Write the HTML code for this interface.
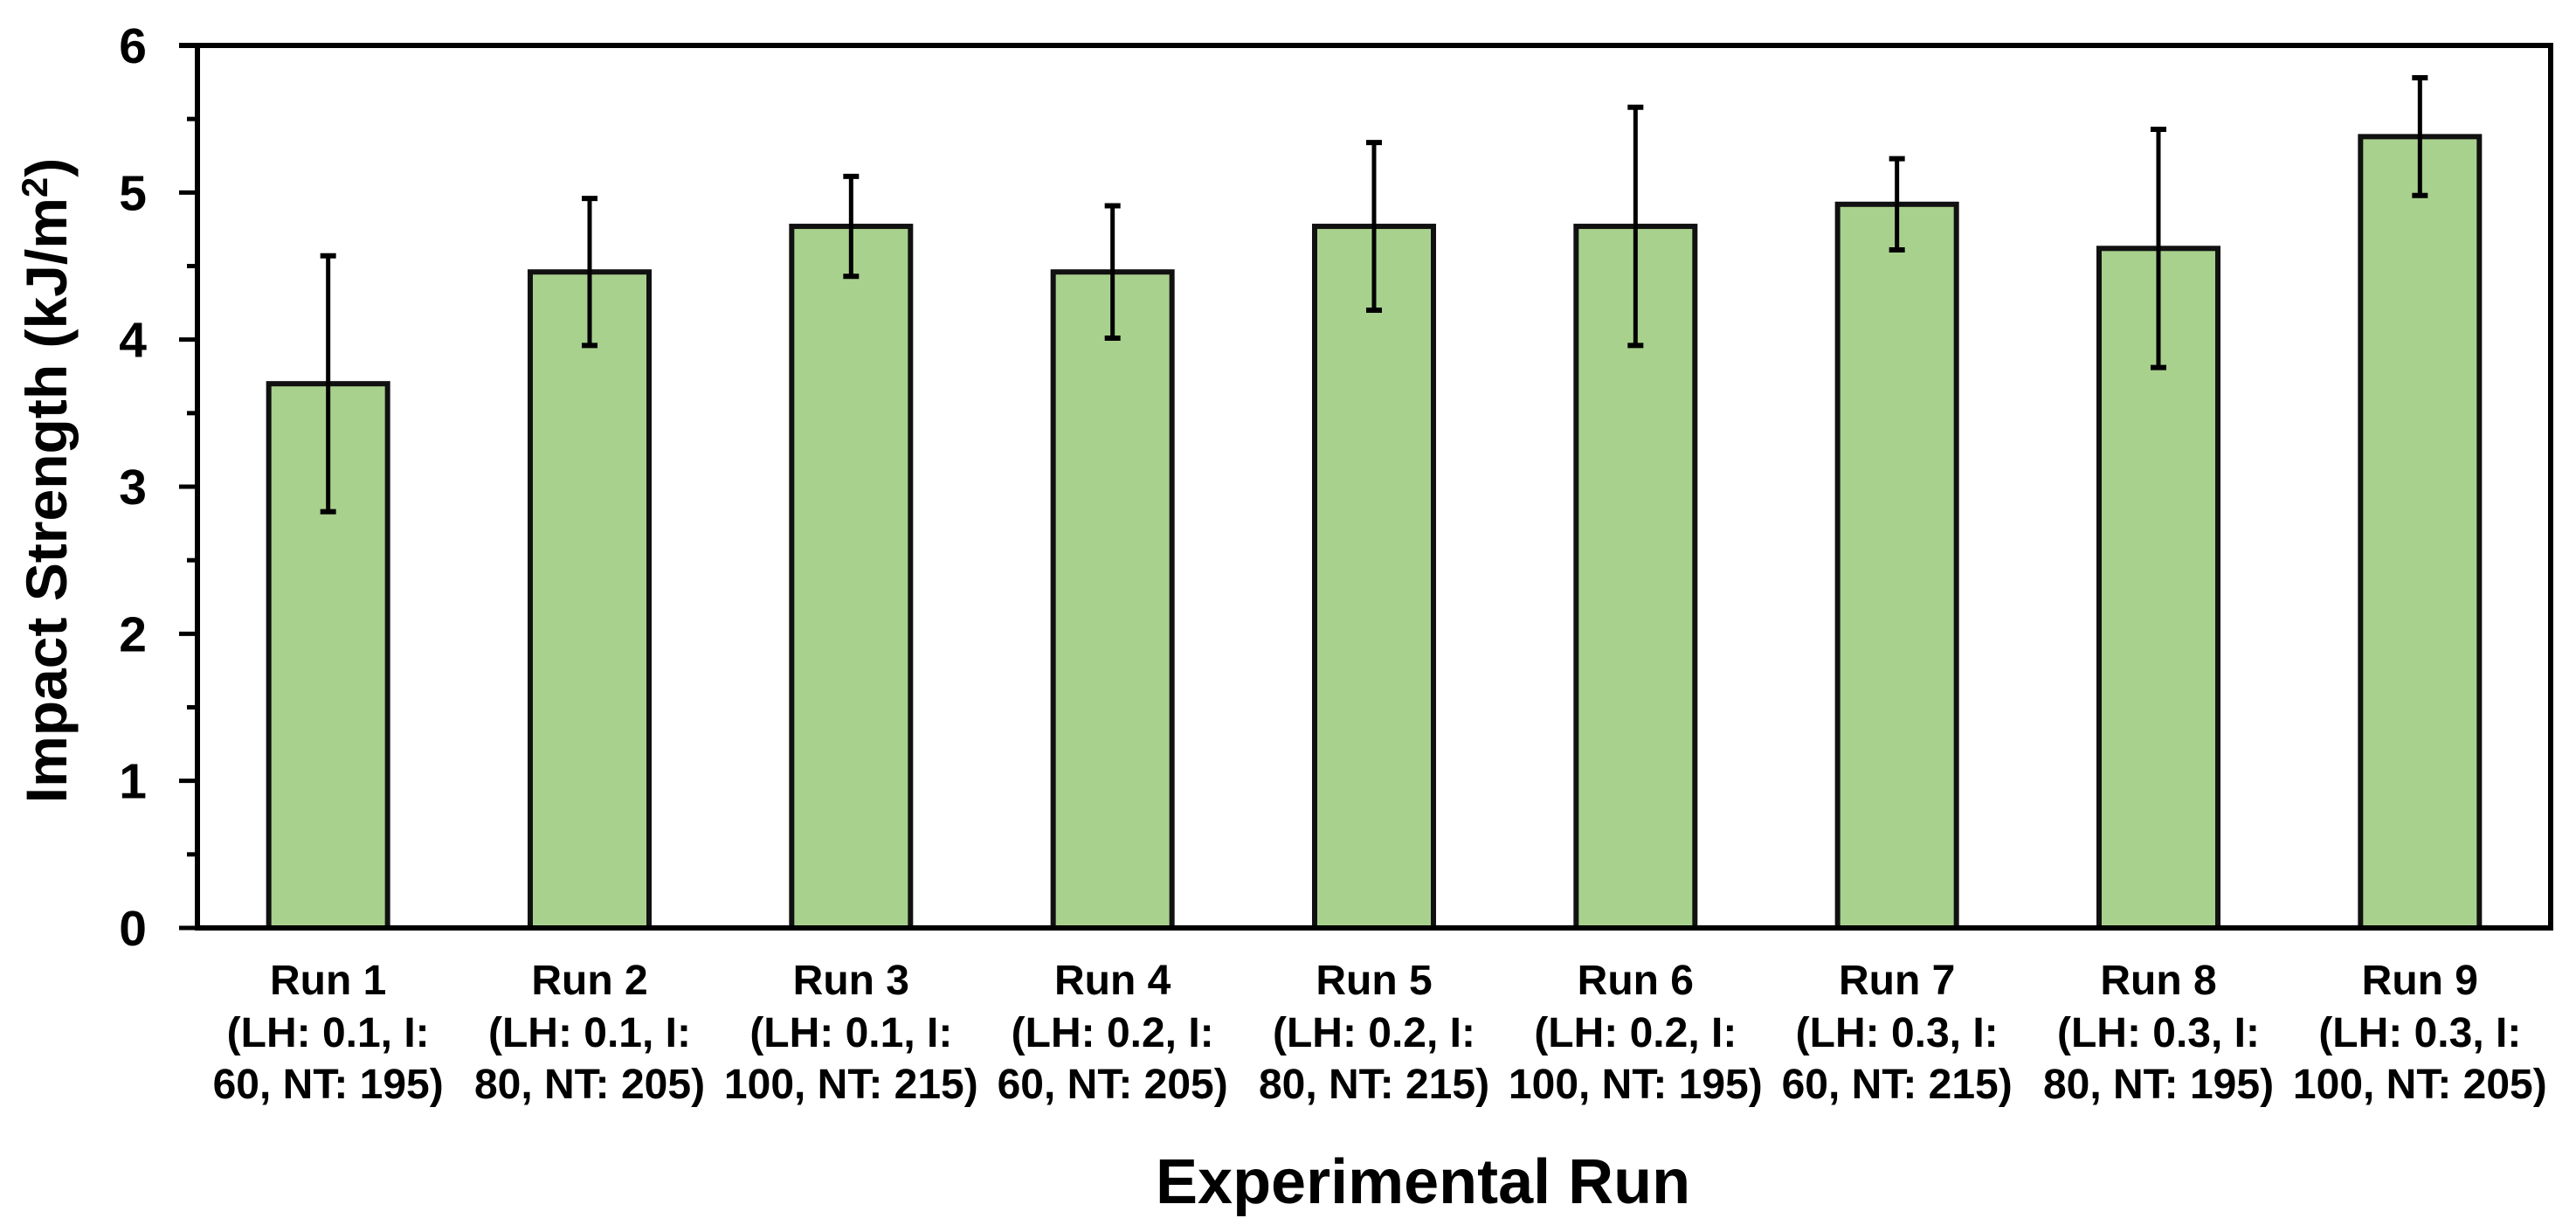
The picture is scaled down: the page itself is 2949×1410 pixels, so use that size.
<!DOCTYPE html>
<html>
<head>
<meta charset="utf-8">
<style>
  html, body { margin: 0; padding: 0; background: #ffffff; }
  svg { display: block; }
  text { font-family: "Liberation Sans", Arial, sans-serif; font-weight: bold; fill: #000; }
</style>
</head>
<body>
<svg id="chart" width="2949" height="1410" viewBox="0 0 2949 1410" xmlns="http://www.w3.org/2000/svg">
  <rect x="0" y="0" width="2949" height="1410" fill="#ffffff"></rect>
  <g id="plot"></g>
  <text x="76" y="550" font-size="66" text-anchor="middle" transform="rotate(-90 76 550)">Impact Strength (kJ/m<tspan font-size="42" dy="-22">2</tspan><tspan dy="22">)</tspan></text>
  <text x="1323" y="1377" font-size="72" text-anchor="start">Experimental Run</text>
</svg>
<script>
const categories = ["Run 1", "Run 2", "Run 3", "Run 4", "Run 5", "Run 6", "Run 7", "Run 8", "Run 9"];
const conditionLine1 = ["(LH: 0.1, I:", "(LH: 0.1, I:", "(LH: 0.1, I:", "(LH: 0.2, I:", "(LH: 0.2, I:", "(LH: 0.2, I:", "(LH: 0.3, I:", "(LH: 0.3, I:", "(LH: 0.3, I:"];
const conditionLine2 = ["60, NT: 195)", "80, NT: 205)", "100, NT: 215)", "60, NT: 205)", "80, NT: 215)", "100, NT: 195)", "60, NT: 215)", "80, NT: 195)", "100, NT: 205)"];
const values = [3.70, 4.46, 4.77, 4.46, 4.77, 4.77, 4.92, 4.62, 5.38];
const errors = [0.87, 0.50, 0.34, 0.45, 0.57, 0.81, 0.31, 0.81, 0.40];
const yTicks = [0, 1, 2, 3, 4, 5, 6];

const NS = "http://www.w3.org/2000/svg";
const plot = document.getElementById("plot");
const X0 = 226, X1 = 2920, Y0 = 1062, Y1 = 52, YMAX = 6;
const band = (X1 - X0) / categories.length;
const barW = 136;
function yScale(v) { return Y0 - (v / YMAX) * (Y0 - Y1); }
function xCenter(i) { return X0 + band * (i + 0.5); }
function mk(tag, attrs) {
  const el = document.createElementNS(NS, tag);
  for (const k in attrs) el.setAttribute(k, attrs[k]);
  plot.appendChild(el);
  return el;
}

// minor ticks
for (let t = 0.5; t < YMAX; t += 1) {
  const m = mk("line", { x1: 214, x2: X0, y1: yScale(t), y2: yScale(t), stroke: "#000", "stroke-width": 5 });
  
  
}
// major ticks + labels
yTicks.forEach(function (t) {
  const tk = mk("line", { x1: 205, x2: X0, y1: yScale(t), y2: yScale(t), stroke: "#000", "stroke-width": 5 });
  
  
  const lb = mk("text", { x: 168, y: yScale(t) + 20, "font-size": 57, "text-anchor": "end" });
  lb.textContent = String(t);
  
  
});

// bars and error bars
values.forEach(function (v, i) {
  const cx = xCenter(i);
  const bar = mk("rect", { x: cx - barW / 2, y: yScale(v), width: barW, height: Y0 - yScale(v), fill: "#a9d18e", stroke: "#111", "stroke-width": 6 });
  
  
  const hi = yScale(v + errors[i]), lo = yScale(v - errors[i]);
  const eb = mk("line", { x1: cx, x2: cx, y1: hi, y2: lo, stroke: "#000", "stroke-width": 5 });
  
  
  const c1 = mk("line", { x1: cx - 9, x2: cx + 9, y1: hi, y2: hi, stroke: "#000", "stroke-width": 6 });
  
  
  const c2 = mk("line", { x1: cx - 9, x2: cx + 9, y1: lo, y2: lo, stroke: "#000", "stroke-width": 6 });
  
  

  const l1 = mk("text", { x: cx, y: 1138, "font-size": 48, "text-anchor": "middle" });
  l1.textContent = categories[i];
  
  
  const l2 = mk("text", { x: cx, y: 1198, "font-size": 48, "text-anchor": "middle" });
  l2.textContent = conditionLine1[i];
  
  
  const l3 = mk("text", { x: cx, y: 1257, "font-size": 48, "text-anchor": "middle" });
  l3.textContent = conditionLine2[i];
  
  
});

// frame
const frame = mk("rect", { x: X0, y: Y1, width: X1 - X0, height: Y0 - Y1, fill: "none", stroke: "#000", "stroke-width": 6 });


const topExt = mk("line", { x1: 205, x2: X0, y1: Y1, y2: Y1, stroke: "#000", "stroke-width": 6 });


</script>
</body>
</html>
